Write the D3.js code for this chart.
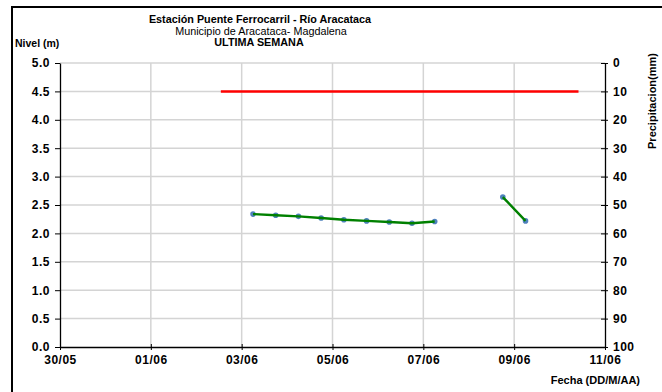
<!DOCTYPE html>
<html>
<head>
<meta charset="utf-8">
<script src="https://cdn.jsdelivr.net/npm/d3@7"></script>
<style>
  body { margin: 0; background: #fff; }
  svg { display: block; font-family: "Liberation Sans", Arial, sans-serif; }
  .tick-label { font-size: 12px; font-weight: bold; letter-spacing: 0.5px; fill: #000; }
  .grid line { stroke: #d4d4d4; stroke-width: 1.5; }
</style>
</head>
<body>
<svg id="chart" width="662" height="392"></svg>
<script>
// Chart data
const levelDates = ['03/06 06:00', '03/06 18:00', '04/06 06:00', '04/06 18:00', '05/06 06:00',
  '05/06 18:00', '06/06 06:00', '06/06 18:00', '07/06 06:00', '07/06 18:00', '08/06 06:00',
  '08/06 18:00', '09/06 06:00'];
const levelValues = [2.34, 2.32, 2.30, 2.27, 2.24, 2.22, 2.20, 2.18, 2.21, null, null, 2.64, 2.22];

const alertDates = ['02/06 13:00', '10/06 10:00'];
const alertValues = [4.5, 4.5];

const dateTicks = ['30/05', '01/06', '03/06', '05/06', '07/06', '09/06', '11/06'];
const levelTicks = [0, 0.5, 1, 1.5, 2, 2.5, 3, 3.5, 4, 4.5, 5];
const precipTicks = [0, 10, 20, 30, 40, 50, 60, 70, 80, 90, 100];

const titleLines = ['Estación Puente Ferrocarril - Río Aracataca', 'Municipio de Aracataca- Magdalena', 'ULTIMA SEMANA'];

const parse = d3.timeParse('%d/%m %H:%M');
const parseDay = d3.timeParse('%d/%m');

const svg = d3.select('#chart');

// Plot area
const plot = {left: 60, right: 605, top: 63, bottom: 347};

const xTicks = dateTicks.map(parseDay);
const x = d3.scaleTime()
  .domain([xTicks[0], xTicks[xTicks.length - 1]])
  .range([plot.left, plot.right]);
const y = d3.scaleLinear()
  .domain([0, 5])
  .range([plot.bottom, plot.top]);
const yPrecip = d3.scaleLinear()
  .domain([0, 100])
  .range([plot.top, plot.bottom]);

// Outer frame (cropped at right and bottom)
svg.append('path')
  .attr('d', 'M12,392 V7 H662')
  .attr('fill', 'none')
  .attr('stroke', '#000')
  .attr('stroke-width', 2);

// Grid
const grid = svg.append('g').classed('grid', true);
grid.selectAll('.h')
  .data(levelTicks.slice(1))
  .join('line')
  .attr('x1', plot.left).attr('x2', plot.right)
  .attr('y1', (d) => y(d)).attr('y2', (d) => y(d));
grid.selectAll('.v')
  .data(xTicks.slice(1, -1))
  .join('line')
  .attr('x1', (d) => x(d)).attr('x2', (d) => x(d))
  .attr('y1', plot.top).attr('y2', plot.bottom);

// Axes
const axisLeft = svg.append('g')
  .attr('transform', `translate(${plot.left},0)`)
  .call(d3.axisLeft(y).tickValues(levelTicks).tickFormat(d3.format('.1f')).tickSizeInner(4).tickSizeOuter(0).tickPadding(6));
const axisRight = svg.append('g')
  .attr('transform', `translate(${plot.right},0)`)
  .call(d3.axisRight(yPrecip).tickValues(precipTicks).tickSizeInner(3).tickSizeOuter(0).tickPadding(5));
const axisBottom = svg.append('g')
  .attr('transform', `translate(0,${plot.bottom})`)
  .call(d3.axisBottom(x).tickValues(xTicks).tickFormat(d3.timeFormat('%d/%m')).tickSizeInner(3).tickSizeOuter(0).tickPadding(5));

[axisLeft, axisRight, axisBottom].forEach((axis) => {
  axis.select('.domain').attr('stroke', '#000').attr('stroke-width', 1.3);
  axis.selectAll('.tick line').attr('stroke', '#000').attr('stroke-width', 1);
  axis.selectAll('.tick text').attr('class', 'tick-label').attr('font-size', null).attr('font-family', null);
});
// Ticks cross the axis lines
axisRight.selectAll('.tick line').attr('x1', -4);
axisBottom.selectAll('.tick line').attr('y1', -3);
axisLeft.selectAll('.tick line').attr('x1', 0).attr('x2', -5);

// Alert level
svg.append('path')
  .datum(alertDates.map((d, i) => ({date: parse(d), value: alertValues[i]})))
  .attr('fill', 'none')
  .attr('stroke', '#ff0000')
  .attr('stroke-width', 2.5)
  .attr('d', d3.line().x((d) => x(d.date)).y((d) => y(d.value)));

// Level series
const levelData = levelDates.map((d, i) => ({date: parse(d), value: levelValues[i]}));
svg.append('g')
  .selectAll('circle')
  .data(levelData.filter((d) => d.value !== null))
  .join('circle')
  .attr('cx', (d) => x(d.date))
  .attr('cy', (d) => y(d.value))
  .attr('r', 2.8)
  .attr('fill', '#4f81bd');
svg.append('path')
  .datum(levelData)
  .attr('fill', 'none')
  .attr('stroke', '#008000')
  .attr('stroke-width', 2.4)
  .attr('d', d3.line()
    .defined((d) => d.value !== null)
    .x((d) => x(d.date))
    .y((d) => y(d.value)));

// Titles
const title = svg.append('g').attr('text-anchor', 'middle');
title.append('text')
  .attr('x', 260).attr('y', 23)
  .attr('font-size', 10.8).attr('font-weight', 'bold')
  .text(titleLines[0]);
title.append('text')
  .attr('x', 261).attr('y', 34.5)
  .attr('font-size', 10.8)
  .text(titleLines[1]);
title.append('text')
  .attr('x', 259).attr('y', 46)
  .attr('font-size', 10.8).attr('font-weight', 'bold')
  .text(titleLines[2]);

svg.append('text')
  .attr('x', 15).attr('y', 47)
  .attr('font-size', 10.5).attr('font-weight', 'bold')
  .text('Nivel (m)');

svg.append('text')
  .attr('transform', 'translate(656,101) rotate(-90)')
  .attr('text-anchor', 'middle')
  .attr('font-size', 11).attr('font-weight', 'bold')
  .text('Precipitacion(mm)');

svg.append('text')
  .attr('x', 640).attr('y', 384)
  .attr('text-anchor', 'end')
  .attr('font-size', 11).attr('font-weight', 'bold')
  .text('Fecha (DD/M/AA)');
</script>
</body>
</html>
